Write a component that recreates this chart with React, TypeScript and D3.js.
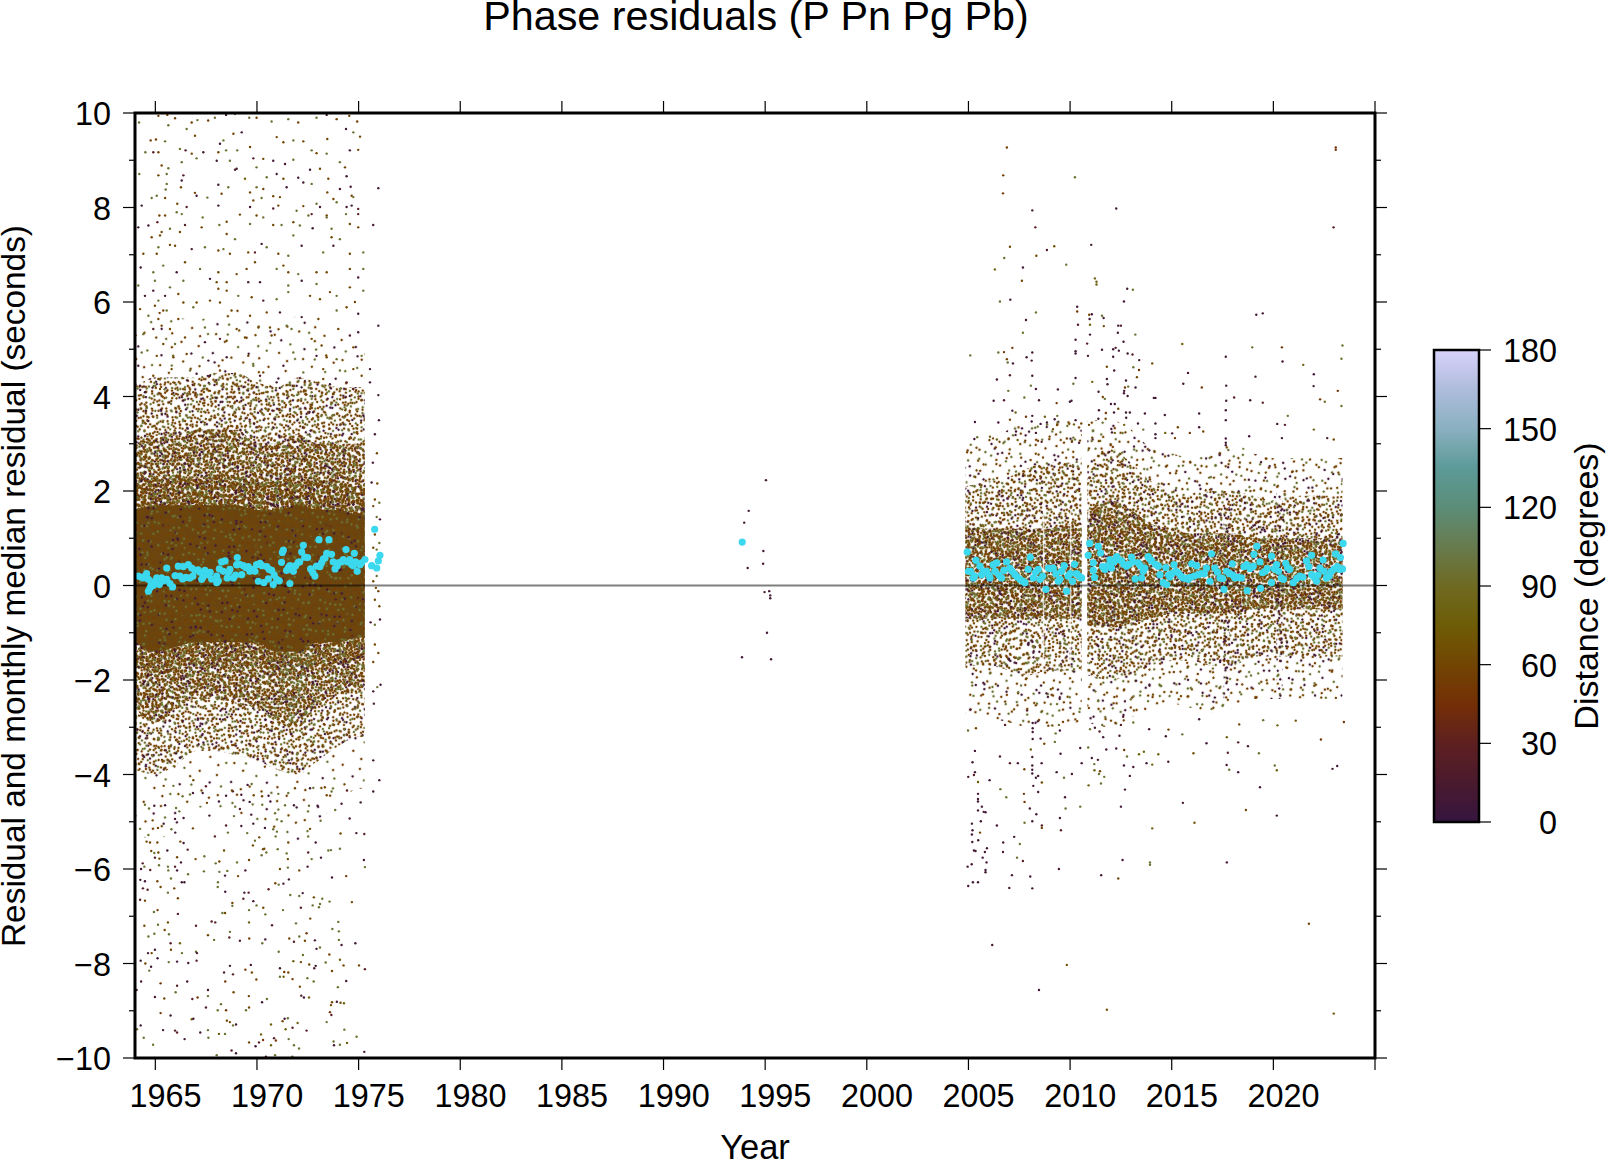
import React from "react";
import * as d3 from "d3";

const titleText = "Phase residuals (P Pn Pg Pb)";
const yearTicks = d3.range(1965, 2026, 5);
const yearLabels = [1965,1970,1975,1980,1985,1990,1995,2000,2005,2010,2015,2020];
const resMajor = [-10,-8,-6,-4,-2,0,2,4,6,8,10];
const resMinor = [-9,-7,-5,-3,-1,1,3,5,7,9];
const distTicks = [0,30,60,90,120,150,180];
const cptDist = [0,15,30,45,60,75,90,105,120,135,150,165,180];
const cptColor = ["#35153f","#4a1a2e","#5e2020","#742f06","#724503","#6e5c06","#6f6a22","#677b4e","#5c8d78","#5c9a98","#8ab0c0","#aebcdc","#d8d2fa"];

// Monthly medians: [year, seconds]
const medians: [number,number][] = [[1964.16,.2],[1964.41,.16],[1964.57,.25],[1964.66,.13],[1964.74,-.05],[1964.66,-.12],[1964.9,0],[1965.07,.16],[1965.31,.16],[1965.2,.02],[1965.56,.13],[1965.56,.37],[1965.72,.04],[1965.85,-.03],[1965.97,.21],[1966.13,.41],[1966.21,.2],[1966.38,.4],[1966.34,.14],[1966.62,.44],[1966.7,.16],[1966.79,.37],[1966.95,.32],[1967.2,.28],[1967.28,.13],[1967.44,.32],[1967.61,.23],[1967.77,.14],[1968.02,.2],[1968.02,.06],[1968.15,.35],[1968.26,.5],[1968.43,.52],[1968.34,.3],[1968.54,.16],[1968.67,.34],[1968.84,.16],[1969.03,.59],[1969,.44],[1969.25,.23],[1969.33,.42],[1969.57,.4],[1969.74,.34],[1969.9,.3],[1969.98,.44],[1970.15,.47],[1970.07,.09],[1970.34,.06],[1970.48,.4],[1970.56,.14],[1970.72,.32],[1970.8,.02],[1970.97,.13],[1971.21,.49],[1971.3,.75],[1971.46,.32],[1971.62,.04],[1971.62,.42],[1971.79,.3],[1972.03,.49],[1972.2,.71],[1972.28,.85],[1972.49,.59],[1972.64,.35],[1972.85,.2],[1973.05,.97],[1972.93,.41],[1973.18,.48],[1973.26,.56],[1973.43,.68],[1973.54,.97],[1973.67,.66],[1973.84,.35],[1974,.48],[1974.25,.55],[1974.38,.76],[1974.57,.55],[1974.74,.42],[1974.79,.68],[1974.93,.3],[1975.07,.44],[1975.31,.55],[1975.64,.42],[1975.79,1.19],[1975.89,.37],[1975.97,.52],[1976.05,.64],[1993.87,.92],
[1964.3,.18],[1964.5,.2],[1964.8,.02],[1965,.1],[1965.4,.1],[1966.5,.17],[1966.85,.2],[1967.1,.33],[1967.35,.18],[1967.7,.28],[1968.1,.1],[1968.6,.28],[1968.95,.22],[1969.15,.45],[1969.45,.38],[1969.65,.3],[1970.25,.42],[1970.6,.34],[1970.85,.22],[1971.1,.1],[1971.25,.7],[1971.55,.38],[1971.9,.42],[1972.1,.5],[1972.35,.6],[1972.75,.27],[1973.1,.4],[1973.35,.58],[1973.75,.5],[1973.95,.42],[1974.15,.5],[1974.45,.5],[1974.65,.45],[1974.85,.5],[1975.15,.48],
[2004.94,.71],[2005.11,.3],[2005.24,.16],[2005.37,.53],[2005.57,.41],[2005.65,.23],[2005.89,.3],[2006.06,.16],[2006.22,.44],[2006.39,.48],[2006.63,.16],[2006.88,.5],[2007.04,.37],[2007.29,.23],[2007.53,.13],[2007.78,.06],[2007.94,.34],[2008.04,.6],[2008.19,.16],[2008.43,.34],[2008.52,.13],[2008.81,-.08],[2008.93,.37],[2009.17,.37],[2009.42,.09],[2009.58,.3],[2009.71,.42],[2009.83,-.12],[2010.12,.09],[2010.22,.45],[2010.32,.25],[2010.57,.16],[2010.89,.64],[2010.96,.89],[2011.14,.48],[2011.14,.32],[2011.2,.17],[2011.39,.83],[2011.5,.69],[2011.71,.34],[2011.96,.55],[2012.04,.37],[2012.29,.61],[2012.53,.52],[2012.78,.41],[2013.02,.6],[2013.2,.14],[2013.35,.48],[2013.52,.16],[2013.68,.37],[2013.84,.61],[2014.01,.52],[2014.34,.41],[2014.42,.23],[2014.58,.06],[2014.75,.02],[2014.71,.38],[2014.91,.18],[2015.11,.44],[2015.32,.27],[2015.57,.16],[2015.81,.13],[2015.98,.46],[2016.22,.42],[2016.3,.23],[2016.71,.37],[2016.88,.09],[2016.96,.67],[2017.12,.37],[2017.37,.16],[2017.57,-.08],[2017.7,.3],[2017.98,.46],[2018.11,.16],[2018.43,.16],[2018.68,.44],[2018.71,-.11],[2019.01,.41],[2019.04,.66],[2019.19,.83],[2019.34,.5],[2019.37,-.06],[2019.47,.27],[2019.7,.36],[2019.91,.06],[2019.91,.62],[2020.16,.44],[2020.4,.16],[2020.61,.47],[2020.81,.34],[2020.98,.06],[2021.3,.2],[2021.63,.52],[2021.88,.64],[2021.88,.23],[2022.12,.09],[2022.29,.37],[2022.45,.54],[2022.61,.16],[2022.86,.3],[2023.06,.67],[2023.27,.34],[2023.3,.59],[2023.43,.89],[2023.4,.35],
[2005,.3],[2005.3,.2],[2005.75,.3],[2006,.22],[2006.3,.3],[2006.5,.22],[2006.75,.32],[2007.15,.3],[2007.4,.18],[2007.65,.1],[2008.3,.28],[2008.65,.2],[2009.05,.36],[2009.3,.25],[2009.5,.13],[2009.9,.2],[2010,.25],[2010.45,.2],[2011.6,.4],[2011.85,.42],[2012.15,.5],[2012.4,.55],[2012.65,.45],[2012.9,.45],[2013.1,.5],[2013.45,.42],[2013.6,.3],[2013.95,.55],[2014.2,.45],[2014.85,.22],[2015,.25],[2015.2,.3],[2015.45,.2],[2015.7,.15],[2015.9,.17],[2016.1,.2],[2016.45,.25],[2016.6,.25],[2017.25,.28],[2017.5,.15],[2017.85,.25],[2018,.22],[2018.25,.17],[2018.55,.4],[2018.85,.36],[2019.6,.3],[2020.05,.35],[2020.25,.3],[2020.5,.13],[2020.7,.38],[2021.15,.15],[2021.45,.18],[2021.75,.4],[2022,.18],[2022.2,.22],[2022.5,.3],[2022.75,.2],[2023,.35],[2023.15,.4]];

// Density envelopes, where dots merge into a mass
const earlyYears = [1964,1965,1966,1967,1968,1969,1970,1971,1972,1973,1974,1975,1975.3];
const earlySolidHi = [1.6,1.7,1.7,1.7,1.7,1.7,1.6,1.6,1.7,1.6,1.6,1.5,1.5];
const earlySolidLo = [-1.2,-1.4,-1.3,-1.2,-1.2,-1.2,-1.2,-1.4,-1.4,-1.2,-1.2,-1.1,-1.1];
const earlyCoreHi = [2.2,2.3,2.3,2.3,2.3,2.3,2.2,2.2,2.3,2.2,2.2,2.1,2.1];
const earlyCoreLo = [-1.7,-1.9,-1.8,-1.7,-1.7,-1.7,-1.7,-1.9,-1.9,-1.7,-1.7,-1.6,-1.6];
const earlyMidHi = [3,3.2,3.2,3.3,3.3,3.3,3,3,3.2,3,3,3,3];
const earlyMidLo = [-2.6,-2.9,-2.6,-2.4,-2.4,-2.5,-2.6,-2.9,-3,-2.5,-2.3,-2.2,-2.2];
const earlyOutHi = [4.2,4.4,4.4,4.4,4.5,4.5,4.3,4.2,4.4,4.3,4.2,4.2,4.2];
const earlyOutLo = [-3.9,-4,-3.8,-3.5,-3.5,-3.6,-3.7,-3.9,-4,-3.7,-3.4,-3.2,-3.2];
const earlyFarHi = [5.5,5.8,5.7,5.6,5.8,5.9,5.6,5.5,5.7,5.6,5.4,5.3,5.3];
const earlyFarLo = [-5.2,-5.4,-5.1,-4.7,-4.7,-4.9,-5,-5.3,-5.4,-5,-4.6,-4.3,-4.3];
const olivePatchYears = [1971.1,1971.5,1972,1972.6];
const olivePatchHi = [-1.4,-1.4,-1.4,-1.4];
const olivePatchLo = [-1.6,-2.8,-2.7,-1.7];

const lateYearsA = [2004.85,2006,2007,2008,2009,2010,2010.57];
const lateCoreHiA = [1.3,1.2,1.2,1.2,1.2,1.3,1.3];
const lateCoreLoA = [-.7,-.7,-.7,-.7,-.7,-.7,-.7];
const lateMidHiA = [2.1,2.2,2.3,2.5,2.6,2.6,2.7];
const lateMidLoA = [-1.7,-1.7,-1.8,-1.9,-1.8,-1.8,-1.8];
const lateOutHiA = [3,3.1,3.3,3.5,3.5,3.5,3.5];
const lateOutLoA = [-2.7,-2.8,-2.9,-3,-3,-2.9,-2.9];
const lateYearsB = [2010.85,2012,2013,2014,2015,2016,2017,2018,2019,2020,2021,2022,2023,2023.4];
const lateCoreHiB = [1.6,1.8,1.6,1.3,1.2,1.1,1.1,1.1,1,1,1,1,1,1];
const lateCoreLoB = [-.9,-.9,-.8,-.7,-.6,-.6,-.6,-.6,-.5,-.5,-.5,-.5,-.5,-.5];
const lateMidHiB = [2.6,2.9,2.6,2.2,2,1.9,2,2,1.9,1.8,1.9,1.9,1.9,1.9];
const lateMidLoB = [-1.9,-2,-1.9,-1.7,-1.6,-1.6,-1.7,-1.7,-1.5,-1.5,-1.5,-1.5,-1.5,-1.5];
const lateOutHiB = [3.5,3.5,3.3,2.9,2.8,2.7,2.8,3,2.8,2.7,2.7,2.7,2.7,2.7];
const lateOutLoB = [-2.9,-3,-2.8,-2.6,-2.5,-2.6,-2.7,-2.6,-2.4,-2.4,-2.4,-2.4,-2.4,-2.4];
const lateStreaks = [2017.7, 2020.3];
const lateStripes = [2008.66, 2009.99];

// Hand-typed speckle swatches for the merged mass: [x px, y px, distance] in a tile
const sparseSwatch: [number,number,number][] = [[3,7,55],[11,21,95],[18,4,10],[24,33,60],[9,44,95],[31,12,55],[37,52,10],[44,6,95],[51,27,60],[58,41,95],[15,58,55],[28,49,10],[41,35,60],[55,11,55],[5,31,10],[47,58,95],[35,24,95],[21,15,60],[60,55,55],[13,37,60],[50,47,10],[27,60,95],[39,44,60],[7,52,55],[57,19,95],[33,3,60],[46,18,10],[19,27,95],[3,18,60],[42,50,55]];
const denseSwatch: [number,number,number][] = [[2,3,55],[7,11,95],[13,5,60],[19,2,10],[25,8,95],[31,4,55],[37,10,60],[4,17,10],[10,22,60],[16,14,95],[22,18,55],[28,14,60],[34,20,95],[38,16,10],[3,28,95],[8,33,55],[14,27,60],[20,31,95],[26,25,10],[32,29,60],[37,34,55],[5,38,60],[12,36,10],[18,37,95],[24,35,55],[30,37,95],[35,26,60],[10,7,60],[16,9,55],[22,12,95],[28,3,60],[34,13,55],[6,24,95],[12,16,60],[18,23,55],[24,21,60],[30,20,55],[36,3,95],[2,12,60],[27,31,55],[15,32,10],[21,26,60],[9,29,95],[33,36,60],[4,34,55],[38,23,60]];

// Individual dots: [year, seconds, distance]
const earlyUpper: [number,number,number][] = [[1965.15,9.94,55],[1965.59,9.96,55],[1965.97,9.89,55],[1964.2,9.8,95],[1966.79,9.8,55],[1967.07,9.85,95],[1967.6,9.84,55],[1967.93,9.9,95],[1968.48,9.96,10],[1968.92,9.98,95],[1969.62,9.9,95],[1969.98,9.9,55],[1970.72,9.82,95],[1971.54,9.87,95],[1972.03,9.8,55],[1972.93,9.9,95],[1973.43,9.96,10],[1973.92,9.87,55],[1974.54,9.94,55],[1974.93,9.82,55],[1964.77,9.42,55],[1965.03,9.44,55],[1965.48,9.4,95],[1966.21,9.24,95],[1966.49,9.21,25],[1966.79,9.14,60],[1965.15,9.17,60],[1964.51,9.17,95],[1964.9,9.17,25],[1967.03,9.04,95],[1966.3,8.96,95],[1968.18,9.35,10],[1968.35,9.42,95],[1968.1,9.17,60],[1968.48,9.21,95],[1969.03,9.21,95],[1969.66,9.28,60],[1969.82,9.04,25],[1970.31,9.03,60],[1970.97,9.49,60],[1971.3,9.38,60],[1971.79,9.42,95],[1972.28,9.4,60],[1972.69,9.21,95],[1972.93,9.15,60],[1973.43,9.14,95],[1974.08,8.96,95],[1974.57,9.21,10],[1974.98,9.22,60],[1973.46,9.45,60],[1974.38,9.66,10],[1975.07,9.5,60],[1974.74,9.59,95],[1967.36,9.17,10],[1968.02,8.99,10],[1968.67,8.99,95],[1969,8.82,10],[1969.25,9.59,10],[1968.84,9.56,60],[1966.95,9.52,60],[1966.54,9.66,95],[1965.64,9.74,95],
[1965.31,8.89,60],[1965.64,8.83,95],[1965.15,8.68,60],[1964.21,8.71,95],[1965.56,8.71,95],[1966.38,8.68,25],[1966.3,8.57,10],[1969.41,8.61,80],[1969.98,8.43,95],[1969.66,8.32,60],[1968.59,8.43,95],[1968.1,8.48,10],[1966.26,8.43,60],[1965.56,8.5,95],[1965.51,8.38,95],[1965.48,8.2,60],[1965.07,8.25,95],[1964.82,8.2,95],[1966.95,8.31,60],[1967.03,8.25,10],[1967.56,8.21,95],[1968.26,8.29,60],[1970.31,8.39,60],[1970.23,8.2,95],[1969.82,8.15,60],[1970.48,8.64,95],[1971.3,8.61,60],[1970.97,8.71,10],[1971.46,8.43,10],[1971.13,8.22,60],[1970.8,8.24,60],[1972.03,8.63,10],[1972.28,8.53,10],[1972.69,8.5,95],[1973.51,8.61,60],[1974.08,8.39,10],[1973.46,8.32,60],[1973.76,8.18,60],[1974.66,8.25,60],[1974.74,8.22,95],[1974.61,8.44,10],[1974.41,8.66,10],[1974.33,8.85,60],[1973.1,8.82,60],[1972.61,8.8,10],[1971.79,9.01,95],[1971.38,8.92,10],[1970.8,8.99,10],[1969.98,8.85,95],[1968.92,8.8,25],[1975.97,8.41,10],[1964.33,8.04,10],[1966.08,8.08,60],[1965.2,7.83,60],[1965.48,7.83,60],[1966.05,7.9,95],[1966.3,7.86,95],[1966.54,8.01,25],[1968.1,8.04,10],[1969.66,8.01,10],[1970.8,7.98,25],[1971.05,8.04,60],[1971.95,7.93,95],[1972.28,8.03,60],[1972.93,8.08,95],[1973.1,8.01,10],[1972.69,7.86,25],[1972.53,7.83,95],[1973.43,7.83,60],[1973.92,8.11,95],[1974.41,8.01,10],[1974.98,7.97,25],[1974.66,8.04,10],[1974.38,7.86,95],[1974.98,7.86,25],[1969.16,7.85,60],[1969.98,7.83,60],[1970.31,7.79,95],[1967.33,7.79,95],[1964.16,7.58,10],[1964.66,7.62,10],[1965.1,7.69,25],[1965.31,7.48,60],[1965.72,7.55,95],[1966.21,7.48,60],[1966.46,7.63,25],[1967.28,7.58,60],[1968.15,7.63,95],[1968.51,7.7,60],[1969.66,7.65,95],[1970.8,7.63,60],[1971.21,7.63,95],[1971.79,7.69,60],[1972.11,7.62,95],[1972.74,7.56,10],[1973.43,7.79,95],[1973.67,7.55,95],[1974.57,7.65,60],[1974.98,7.58,60],[1975.72,7.63,10],
[1964.82,7.37,60],[1965.23,7.41,60],[1965.15,7.16,95],[1965.72,7.21,60],[1965.97,7.19,60],[1966.79,7.12,10],[1967.44,7.16,95],[1968.1,7.09,60],[1968.51,7.44,60],[1968.35,7.12,95],[1968.67,7.02,60],[1968.92,7.33,95],[1969.57,7.05,60],[1969.9,7.05,25],[1970.23,7.23,10],[1970.48,7.16,95],[1971.05,7.02,60],[1971.3,6.77,60],[1971.54,6.98,95],[1971.79,7.41,95],[1972.2,7.19,10],[1973.26,7.05,95],[1973.67,7.37,60],[1974.08,7.33,95],[1973.76,7.19,10],[1974.57,7.02,60],[1975.23,7.05,95],[1964.41,7.02,60],[1965.07,7.02,60],[1964.28,6.73,10],[1964.9,6.63,95],[1965.39,6.77,95],[1966.05,6.63,10],[1966.46,6.84,60],[1967.2,6.7,95],[1967.69,6.49,10],[1968.1,6.63,60],[1968.51,6.42,60],[1969,6.59,60],[1969.49,6.7,60],[1969.9,6.84,60],[1970.15,6.42,10],[1970.97,6.7,95],[1971.54,6.63,60],[1972.03,6.59,95],[1972.93,6.63,60],[1973.43,6.63,60],[1974.57,6.7,60],[1974.98,6.52,10],[1975.23,6.7,95],[1964.98,6.45,95],[1965.72,6.31,95],[1966.38,6.45,95],[1968.02,6.42,60],[1969.57,6.42,10],[1971.54,6.35,95],[1972.2,6.45,10],[1972.93,6.38,95],[1973.59,6.21,60],[1974.57,6.31,60],[1975.23,6.24,95],[1964.16,6.35,95],[1964.49,6.13,10],[1964.9,6.24,10],[1965.48,6.13,10],[1966.13,6.17,60],[1967.03,5.99,60],[1967.69,6.03,60],[1968.1,6.28,60],[1968.51,6.24,60],[1969.08,6.13,95],[1969.74,6.1,60],[1970.31,6.03,25],[1970.97,6.06,95],[1971.54,6.21,95],[1972.61,6.13,60],[1973.1,6.06,60],[1973.92,6.13,95],[1974.82,6,60],
[1964.25,5.85,60],[1964.98,5.92,60],[1965.15,6.03,95],[1965.39,5.82,60],[1964.66,5.71,95],[1965.15,5.64,60],[1965.31,5.5,60],[1965.72,5.43,60],[1966.13,5.64,60],[1964.9,5.43,25],[1965.56,5.82,95],[1966.38,5.99,60],[1966.87,5.89,95],[1968.18,5.99,60],[1968.75,5.82,60],[1969.66,5.71,60],[1970.48,5.78,60],[1971.13,5.78,10],[1971.46,5.5,95],[1972.2,5.68,10],[1973.02,5.64,60],[1973.92,5.82,95],[1974.41,5.89,60],[1974.98,5.75,10],[1970.64,5.46,60],[1970.07,5.46,60],[1969,5.43,60],[1968.18,5.22,25],[1967.44,5.46,95],[1964.41,5.32,95],[1965.39,5.11,60],[1965.97,5.11,95],[1966.46,5.25,60],[1967.44,5.15,10],[1968.51,5.18,60],[1969.41,5.25,60],[1970.72,5.29,60],[1971.7,5.43,95],[1972.69,5.22,60],[1973.18,5.08,60],[1974,5.43,60],[1974.57,5.29,25],[1974.98,5.36,10],[1975.97,5.5,10],[1964.33,4.93,95],[1965.07,4.86,60],[1965.89,4.83,60],[1966.54,4.9,60],[1967.61,4.76,10],[1968.51,4.83,10],[1969.57,4.86,60],[1970.48,4.97,95],[1971.79,4.93,95],[1972.93,4.86,10],[1973.43,4.83,60],[1973.92,4.79,95],[1974.74,5.04,60],[1975.15,4.86,95],[1975.56,4.58,10],[1964.16,4.65,10],[1964.9,4.44,60],[1965.8,4.58,60],[1966.71,4.55,95],[1967.69,4.44,10],[1968.18,4.55,60],[1968.92,4.48,60],[1969.82,4.65,95],[1970.31,4.51,60],[1971.3,4.65,10],[1972.28,4.51,95],[1973.26,4.58,60],[1974.08,4.55,95],[1974.74,4.58,60],[1964.25,4.23,10],[1965.15,4.37,60],[1965.89,4.3,60],[1967.03,4.48,10],[1968.02,4.3,95],[1969,4.23,60],[1970.15,4.44,25],[1971.62,4.26,95],[1973.26,4.37,60],[1973.59,4.26,10],[1974.41,4.3,25],[1975.15,4.44,60],[1975.97,4.03,10],[1964.49,4.09,10],[1965.23,4.16,60],[1966.87,4.09,60],[1967.69,4.12,60],[1968.51,4.16,95],[1969.98,4.05,60],[1970.97,4.3,10],[1971.79,4.16,95],[1972.69,4.09,95],[1973.76,4.05,60],[1974.74,4.16,25],[1975.56,4.3,10]];

const earlyLower: [number,number,number][] = [[1964.28,-9.31,10],[1964.1,-9.39,95],[1964.43,-9.57,95],[1964.89,-9.72,95],[1965.26,-9.05,50],[1965.75,-9.1,10],[1965.38,-9.41,10],[1965.97,-9.42,25],[1966.07,-9.46,25],[1966.44,-9.6,10],[1966.79,-9.18,80],[1966.87,-9.17,10],[1967.49,-8.93,25],[1968.07,-8.99,95],[1968.23,-8.86,95],[1968.48,-8.99,50],[1967.21,-9.46,10],[1967.59,-9.41,95],[1967.61,-9.57,95],[1968.13,-9.49,80],[1968.43,-9.49,95],[1968.52,-9.21,60],[1968.67,-9.24,60],[1968.82,-9.31,95],[1968.97,-9.29,10],[1968.75,-9.84,25],[1968.97,-9.9,10],[1968.02,-9.94,95],[1969.46,-8.99,95],[1969.61,-8.93,60],[1970.25,-8.82,10],[1969.61,-9.67,60],[1970.2,-9.5,80],[1969.93,-9.75,10],[1970.1,-9.67,25],[1970.3,-9.62,50],[1970.84,-9.58,25],[1970.93,-9.63,50],[1970.69,-9.73,80],[1970.69,-9.29,80],[1971.26,-9.22,60],[1971.36,-9.17,10],[1971.52,-9.16,95],[1971.41,-9.39,80],[1971.75,-9.36,25],[1972,-9.26,80],[1971.56,-9.6,95],[1971.82,-9.73,95],[1972.07,-9.8,95],[1972.44,-9.42,25],[1970.44,-9.97,25],[1970.89,-9.94,95],[1971.74,-9.97,95],[1973.43,-9.24,95],[1973.59,-9.03,50],[1973.66,-9.09,25],[1973.64,-8.88,60],[1973.69,-8.82,60],[1973.93,-8.81,10],[1974.11,-8.83,60],[1974.28,-8.84,80],[1974.3,-9.4,95],[1973.77,-9.65,95],[1973.79,-9.73,10],[1974.08,-9.72,95],[1974.43,-9.68,80],[1974.9,-9.55,95],[1975.28,-9.87,10],
[1964.08,-8.56,10],[1964.3,-8.38,10],[1964.98,-8.71,10],[1965.26,-8.42,50],[1965.44,-8.74,60],[1966,-8.61,95],[1966.07,-8.47,25],[1966.57,-8.38,10],[1966.82,-8.75,25],[1967.08,-8.72,50],[1967.59,-8.56,10],[1967.59,-8.69,95],[1968.44,-8.38,50],[1968.85,-8.61,60],[1969.6,-8.69,60],[1969.97,-8.34,60],[1970.49,-8.75,95],[1971.75,-8.33,50],[1971.13,-8.28,95],[1971.31,-8.28,80],[1971.54,-8.19,60],[1971.34,-8.18,50],[1971.13,-8.1,10],[1972.11,-8.49,60],[1972.18,-8.68,25],[1972.31,-8.72,10],[1972.56,-8.72,80],[1972.48,-8.31,95],[1972.79,-8.38,95],[1973.98,-8.5,95],[1974.39,-8.37,10],[1968.38,-8.19,25],[1968.82,-8.23,25],[1968.67,-8.05,10],[1969.43,-8.13,50],[1969.75,-8.19,60],[1969.7,-8.03,10],[1964.28,-7.94,10],[1964.51,-8,60],[1964.79,-8.07,10],[1964.7,-8.15,95],[1965.66,-7.97,95],[1966.07,-7.96,10],[1966.62,-7.99,10],[1967.03,-7.94,25],[1971.79,-7.95,80],[1972.16,-7.97,60],[1972.57,-8.02,60],[1972.82,-8.1,25],[1972.89,-8.05,10],[1973.38,-7.98,95],[1973.69,-8.16,60],[1974.08,-7.92,80],[1974.26,-8.04,60],[1975.02,-8.04,60],[1975.31,-8.12,25],[1964.64,-7.78,10],[1964.82,-7.78,60],[1964.98,-7.71,10],[1965.11,-7.89,10],[1965.75,-7.57,25],[1966.21,-7.57,80],[1965.77,-7.71,60],[1966.31,-7.78,95],[1967,-7.75,95],[1967.05,-7.78,10],[1969.16,-7.52,25],[1969.62,-7.47,60],[1968.64,-7.45,25],[1967.59,-7.4,60],[1967.89,-7.5,95],[1970.26,-7.57,95],[1970.41,-7.49,10],[1971.07,-7.75,95],[1971.59,-7.47,60],[1971.82,-7.54,25],[1972.08,-7.43,95],[1972.36,-7.52,60],[1972.44,-7.36,50],[1972.85,-7.51,10],[1972.93,-7.69,10],[1973.1,-7.66,95],[1972.26,-7.82,95],[1973.56,-7.81,60],[1973.71,-7.27,95],[1974.03,-7.32,95],[1974.03,-7.5,95],[1974.16,-7.61,10],[1974.84,-7.57,10],[1964.66,-7.43,95],[1964.95,-7.37,95],[1965.46,-7.29,60],[1965.67,-7.38,95],[1964.46,-7.2,60],[1965.13,-7.18,95],[1965.62,-7.13,60],[1967,-7.2,25],[1967.77,-7.11,25],[1967.95,-7.13,25],[1969.61,-7.13,80],[1970.74,-7.19,25],[1971.92,-7.15,95],[1972.62,-7.05,60],[1974,-7.12,95],[1968.67,-7.33,95],
[1964.93,-6.91,95],[1965.11,-6.87,50],[1966.11,-6.95,25],[1968.3,-6.93,95],[1968.43,-6.93,60],[1968.79,-6.78,95],[1968.79,-6.72,60],[1969.61,-6.87,95],[1969.82,-6.68,10],[1969.98,-6.77,95],[1970.31,-6.82,60],[1970.41,-6.96,95],[1971.28,-6.87,95],[1972.16,-6.82,25],[1972.74,-6.77,95],[1973.05,-6.81,95],[1973.1,-6.74,95],[1973.21,-6.63,95],[1972.8,-6.6,60],[1973.57,-6.69,95],[1974.67,-6.7,60],[1964.25,-6.65,25],[1964.49,-6.67,60],[1966.11,-6.62,60],[1969.33,-6.63,25],[1969.38,-6.5,10],[1969.59,-6.5,25],[1971.64,-6.55,95],[1972.08,-6.57,95],[1972.25,-6.51,10],[1968.44,-6.48,10],[1970.57,-6.43,25],[1965.62,-6.5,95],[1965.93,-6.41,60],[1965.26,-6.38,60],[1964.39,-6.41,25],[1964.62,-6.44,25],[1964.49,-6.26,10],[1964.26,-6.23,10],[1965.1,-6.26,60],[1966.3,-6.28,10],[1966.43,-6.28,10],[1965.77,-6.2,95],[1968.08,-6.28,95],[1968.07,-6.38,95],[1970.9,-6.3,60],[1971.07,-6.33,95],[1971.3,-6.31,10],[1971.57,-6.22,10],[1973.69,-6.18,10],[1974.39,-6.15,50],
[1964.3,-6,10],[1964.46,-5.95,95],[1964.75,-6.02,25],[1965.62,-5.95,95],[1965.64,-6.03,95],[1965.97,-5.95,25],[1966.07,-6.03,10],[1966.61,-6.11,95],[1967.39,-6.05,95],[1968.15,-6.06,95],[1968.43,-6.14,10],[1968.54,-6.04,95],[1969.07,-6.15,60],[1969.43,-6.03,10],[1971.13,-6,60],[1971.52,-5.97,95],[1972.08,-6.03,60],[1972.49,-5.95,10],[1975.31,-5.96,95],[1975.26,-5.81,10],[1964.38,-5.88,25],[1964.8,-5.62,60],[1964.95,-5.66,95],[1965.15,-5.65,60],[1964.98,-5.76,25],[1965.2,-5.78,60],[1965.18,-5.92,95],[1965.59,-5.61,10],[1966.07,-5.75,60],[1966.26,-5.86,10],[1966.98,-5.79,60],[1967.41,-5.73,95],[1967.97,-5.88,95],[1968.15,-5.84,60],[1969.02,-5.86,95],[1969.61,-5.81,60],[1970.23,-5.71,95],[1970.3,-5.58,60],[1970.36,-5.57,60],[1970.46,-5.65,95],[1971.02,-5.58,95],[1971.46,-5.67,95],[1971.52,-5.79,60],[1972.52,-5.65,25],[1972.69,-5.79,95],[1973.15,-5.76,10],[1973.51,-5.61,95],[1973.64,-5.6,95],[1974.08,-5.57,95],
[1964.57,-5.42,60],[1964.74,-5.44,60],[1965.1,-5.44,60],[1966.23,-5.42,60],[1966.39,-5.45,10],[1966.59,-5.59,25],[1968.38,-5.61,60],[1969.52,-5.24,95],[1969.8,-5.5,60],[1969.9,-5.4,95],[1970.11,-5.33,60],[1971.21,-4.99,95],[1970.8,-5.16,95],[1970.98,-5.21,95],[1970.92,-5.31,95],[1971.54,-5.44,60],[1972.61,-5.15,60],[1972.52,-5.31,95],[1972.89,-5.44,10],[1973.13,-4.98,95],[1974.11,-5.25,60],[1974.89,-5.24,10],[1975.28,-5.26,25],[1974.56,-4.93,10],[1964.25,-5.15,95],[1964.66,-5.28,95],[1964.87,-4.97,60],[1965.13,-5.13,60],[1965.41,-5.04,10],[1965.79,-5.16,95],[1965.98,-5.23,10],[1965.97,-4.94,10],[1966.39,-4.92,10],[1966.85,-5.14,60],[1967.66,-4.87,10],[1967.93,-5.31,25],[1968.48,-5.08,25],[1968.57,-5.23,95],[1969.23,-5.09,10],[1969.82,-5.04,10],[1970.39,-5.13,10],[1968.87,-4.88,95],[1969.72,-4.85,10],
[1964.49,-4.64,95],[1964.69,-4.72,95],[1964.95,-4.66,10],[1965.48,-4.65,10],[1966.02,-4.71,95],[1966.18,-4.78,95],[1967.54,-4.6,60],[1968.13,-4.57,10],[1968.48,-4.45,10],[1968.93,-4.68,95],[1969.16,-4.73,25],[1969.64,-4.58,10],[1970.25,-4.46,60],[1970.57,-4.45,10],[1970.26,-4.64,95],[1970.66,-4.57,10],[1970.89,-4.82,95],[1971.38,-4.65,95],[1971.82,-4.65,10],[1972.56,-4.66,95],[1972.98,-4.66,10],[1973.85,-4.75,95],[1974.16,-4.62,10],[1975.1,-4.59,10],[1974.43,-4.34,25],[1973.43,-4.44,60],[1973.67,-4.36,95],[1975.72,-4.36,10],[1976.02,-4.12,10],[1971.87,-4.29,60],[1972.61,-4.29,10],[1973.34,-4.27,60],[1971.05,-4.41,95],[1971.54,-4.39,95],[1966.85,-4.39,10],[1967.33,-4.39,10],[1965.41,-4.24,60],[1966.34,-4.46,95],[1965.89,-4.24,95],[1966.87,-4.12,60],[1967.49,-4.25,25],[1968.77,-4.34,60],[1969.23,-4.43,10],[1969.84,-4.44,60],[1969.54,-4.22,10],[1969.74,-4.2,95]];

const lateUpper: [number,number,number][] = [[2006.89,9.27,55],[2006.71,8.68,55],[2006.7,8.3,55],[2010.24,8.64,95],[2008.14,7.94,10],[2012.27,7.98,10],[2008.29,7.58,25],[2023.07,9.27,45],[2023.07,9.22,45],[2022.96,7.58,25],[2011.04,7.21,10],[2007.04,7.17,60],[2009.22,7.18,70],[2008.86,7.1,20],[2008.34,6.98,60],[2006.76,6.93,95],[2009.81,6.79,95],[2007.68,6.73,10],[2006.3,6.69,80],[2007.63,6.45,60],[2011.22,6.5,80],[2011.3,6.43,80],[2011.3,6.37,80],[2012.81,6.28,10],[2013.09,6.26,95],[2012.65,6.01,10],[2006.55,6.01,95],[2007.06,6.05,10],[2010.35,5.9,10],[2010.35,5.8,50],[2008.32,5.78,95],[2010.94,5.73,60],[2011.07,5.74,10],[2011.57,5.71,95],[2011.65,5.66,10],[2010.96,5.64,10],[2007.83,5.62,10],[2010.98,5.52,80],[2010.39,5.52,20],[2011.66,5.49,60],[2012.37,5.5,10],[2012.5,5.5,20],[2012.35,5.35,10],[2007.68,5.35,95],[2013.21,5.31,95],[2010.98,5.31,10],[2010.27,5.2,10],[2012.63,5.16,10],[2010.84,5.12,25],[2015.52,5.11,80],[2019.16,5.73,10],[2019.48,5.76,10],[2023.4,5.08,95],[2018.96,5.04,95],[2020.42,5.04,50],[2007.16,5.03,50],[2005.09,4.87,95],[2006.47,4.93,95],[2006.75,4.94,50],[2008.14,4.93,10],[2007.86,4.83,10],[2010.27,4.96,10],[2010.27,4.91,10],[2011.57,4.99,10],[2012.12,5,10],[2012.24,5.03,25],[2012.4,4.97,10],[2010.88,4.86,10],[2012.12,4.84,10],[2012.83,4.91,10],[2013.07,4.89,25],[2017.66,4.84,10],[2006.89,4.79,60],[2006.93,4.72,95],[2007.19,4.7,10],[2008.11,4.76,10],[2013.4,4.77,10],[2020.45,4.74,10],[2014.04,4.7,60],[2021.47,4.67,80],[2023.35,4.8,95],[2011.81,4.63,60],[2013.11,4.62,95],[2013.39,4.56,50],[2012.17,4.55,10],[2015.8,4.5,10],[2007.04,4.45,25],[2008.14,4.44,10],[2019.12,4.42,10],[2021.99,4.47,10],[2013.29,4.41,60],[2010.27,4.39,10],[2011.81,4.37,10],[2006.4,4.36,10],[2012.75,4.34,10],[2011.09,4.31,80],[2010.16,4.27,95],[2015.57,4.27,10],[2011.84,4.26,10],[2008.07,4.23,95],[2017.68,4.23,10],[2012.86,4.21,95],[2012.7,4.19,50],[2013.22,4.19,10],[2016.48,4.19,50],[2021.98,4.22,10],[2008.32,4.16,10],[2009.4,4.15,10],[2006.96,4.12,95],[2012.66,4.12,10],[2012.65,4.07,10],[2011.4,4.1,10],[2023.17,4.12,50],[2012.83,4.01,10],[2011.61,3.99,60],[2011.71,3.95,95],[2007.75,3.98,95],[2018.07,3.98,25],[2014.12,3.97,10],[2014.2,3.97,10],[2022.3,3.94,50],[2006.24,3.91,10],[2006.75,3.92,25],[2008.47,3.92,10],[2009.99,3.89,10],[2010.07,3.91,10],[2017.68,3.91,10],[2018.86,3.92,10],[2022.53,3.89,95],[2009.34,3.86,50],[2019.48,3.87,25],[2012.01,3.84,10],[2012.2,3.84,10],[2023.35,3.8,95],[2011.42,3.71,10],[2012.37,3.74,60],[2007.16,3.7,10],[2017.66,3.71,10],[2007.32,3.66,80],[2011.76,3.65,50],[2012.16,3.66,10],[2012.75,3.66,10],[2012.94,3.66,10],[2013.68,3.64,10],[2016.35,3.64,10],[2014.66,3.61,10],[2009.37,3.59,95],[2020.71,3.59,95],[2007.83,3.57,50],[2008.14,3.59,10],[2008.76,3.57,80],[2011.39,3.53,10],[2011.75,3.53,60],[2012.76,3.55,10],[2009.24,3.52,10],[2007.04,3.51,60],[2010.27,3.5,10],[2017.66,3.5,10],[2005.32,3.46,10],[2006.47,3.45,10],[2008.11,3.47,10],[2008.55,3.42,10],[2008.86,3.45,10],[2009.37,3.41,60],[2010.19,3.41,80],[2010.55,3.43,60],[2010.93,3.4,60],[2012.66,3.4,80],[2013.34,3.43,10],[2014.2,3.43,10],[2015.3,3.35,60],[2016.35,3.35,10],[2020.19,3.42,10],[2020.57,3.4,25],[2013.6,3.3,95],[2021.99,3.3,80],[2007.34,3.26,10],[2008.32,3.23,10],[2009.16,3.31,60],[2012.06,3.24,10],[2012.2,3.23,80],[2014.68,3.23,80],[2015.02,3.22,10],[2014.2,3.2,10],[2016.55,3.26,60],[2015.89,3.23,50],[2018.81,3.16,10],[2006.06,3.15,80],[2005.43,3.14,95],[2005.29,3.1,10],[2006.4,3.09,80],[2006.98,3.11,60],[2010.16,3.13,95],[2009.84,3.11,60],[2011.09,3.13,60],[2014.2,3.12,10],[2015.16,3.12,50],[2017.66,3.11,10],[2017.66,3.02,10],[2017.66,2.97,10],[2020.42,3.12,10],[2022.65,3.12,10],[2022.97,3.09,60],[2007.42,3.08,80],[2011.48,3.06,80],[2008.6,3.04,25],[2010.09,3.04,50]];

const lateLower: [number,number,number][] = [[2021.75,-7.16,60],[2006.17,-7.61,10],[2009.84,-8.03,70],[2008.47,-8.56,10],[2011.81,-8.98,70],[2022.97,-9.06,70],[2008.14,-6.41,10],[2007.01,-6.4,10],[2004.99,-6.36,10],[2005.22,-6.28,10],[2005.47,-6.28,10],[2007.14,-6.13,10],[2008.04,-6.16,10],[2005.84,-6.07,10],[2005.84,-6.02,10],[2009.45,-6,10],[2011.53,-6.13,10],[2012.37,-6.2,60],[2004.96,-5.95,10],[2005.16,-5.9,10],[2005.7,-5.76,10],[2005.89,-5.86,10],[2007.39,-5.76,95],[2007.68,-5.83,25],[2012.58,-5.81,10],[2013.93,-5.86,95],[2013.93,-5.91,95],[2017.71,-5.86,10],[2005.27,-5.61,10],[2005.35,-5.62,10],[2005.81,-5.64,10],[2005.91,-5.56,10],[2006.7,-5.64,10],[2006.71,-5.44,10],[2005.19,-5.43,10],[2005.48,-5.39,10],[2007.53,-5.47,95],[2007.25,-5.32,10],[2005.17,-5.27,10],[2005.2,-5.18,10],[2005.17,-5.04,10],[2005.57,-5.23,60],[2005.61,-4.99,10],[2006.4,-5.08,10],[2007.76,-5.02,95],[2008.14,-4.99,10],[2008.61,-5.08,25],[2008.61,-5.13,60],[2009.55,-5.18,25],[2014.04,-5.14,80],[2016.12,-5.02,70],[2020.17,-4.87,10],[2009.5,-4.92,10],[2008.34,-4.84,10],[2018.65,-4.75,60],[2005.47,-4.76,10],[2005.75,-4.79,10],[2005.84,-4.8,10],[2005.66,-4.68,10],[2008.02,-4.72,10],[2009.78,-4.72,95],[2005.47,-4.52,10],[2005.47,-4.57,10],[2005.47,-4.41,10],[2010.5,-4.68,95],[2012.5,-4.68,10],[2015.55,-4.6,10],[2009.75,-4.48,10],[2006.86,-4.48,95],[2007.73,-4.41,50],[2007.76,-4.58,50],[2008.43,-4.37,10],[2006.57,-4.31,95],[2008.19,-4.24,10],[2012.7,-4.32,10],[2019.34,-4.27,10],[2010.91,-4.23,80],[2011.52,-4.19,95],[2008.61,-4.17,60],[2005.47,-4.16,70],[2006.04,-4.12,10],[2009.7,-4.07,95],[2008.32,-4.07,10],[2008.43,-4.03,10],[2008.14,-3.98,10],[2004.99,-4.05,10],[2005.27,-4.01,25],[2005.32,-3.95,10],[2010.09,-3.99,10],[2011.68,-4.05,95],[2011.42,-3.99,95],[2011.47,-3.93,60],[2011.2,-3.91,80],[2012.94,-4.03,10],[2009.34,-3.95,10],[2017.83,-3.9,95],[2018.27,-3.95,10],[2020.17,-3.91,80],[2022.91,-3.88,10],[2023.14,-3.82,10],[2007.75,-3.89,60],[2008.14,-3.9,10],[2008.14,-3.81,10],[2017.7,-3.8,10],[2020.07,-3.81,95],[2013.11,-3.84,10],[2012.65,-3.81,10],[2011.19,-3.78,95],[2010.57,-3.76,10],[2013.76,-3.76,10],[2014.04,-3.79,80],[2005.2,-3.74,10],[2007.04,-3.76,25],[2007.43,-3.76,10],[2008.6,-3.76,10],[2014.83,-3.73,10],[2011.37,-3.69,10],[2011.07,-3.65,10],[2006.55,-3.62,10],[2008.14,-3.63,10],[2012.8,-3.62,95],[2009.53,-3.56,10],[2013.39,-3.57,80],[2013.63,-3.52,80],[2014.34,-3.57,80],[2016.07,-3.55,70],[2017.76,-3.54,25],[2019.29,-3.55,95],[2005.32,-3.5,10],[2008.07,-3.47,80],[2010.5,-3.44,10],[2010.89,-3.43,95],[2011.78,-3.47,10],[2012.27,-3.45,10],[2012.66,-3.48,50],[2018.75,-3.4,10],[2016.71,-3.34,10],[2018.27,-3.32,25],[2022.34,-3.26,50],[2017.71,-3.21,80],[2014.71,-3.19,10],[2012.43,-3.18,10],[2011.63,-3.21,10],[2015.52,-3.15,95],[2009.25,-3.31,95],[2008.73,-3.35,60],[2008.55,-3.24,10],[2008.16,-3.25,10],[2008.16,-3.1,10],[2008.16,-3.02,10],[2008.16,-2.91,10],[2009.5,-3.07,10],[2009.29,-3.13,95],[2011.45,-3.09,25],[2005.37,-3.02,60],[2004.98,-3.07,95],[2006.8,-2.95,25],[2013.89,-3.04,10],[2014.84,-3.05,60],[2018.32,-2.94,60],[2020.2,-2.96,80],[2021.1,-2.86,70],[2023.47,-2.89,50],[2010.35,-2.87,60],[2009.12,-2.96,80],[2009.45,-2.95,95],[2010.98,-3.04,95],[2011.22,-3.01,10],[2011.58,-2.95,95],[2012.5,-2.95,25],[2012.61,-2.78,25],[2013.11,-2.9,95],[2016.35,-2.83,10],[2019.5,-2.85,95]];

const sparseMiddle: [number,number,number][] = [[1995.04,2.23,10],[1994.19,1.58,10],[1993.97,1.33,10],[1994.91,.73,10],[1994.9,.46,10],[1994.14,.37,10],[1994.97,-.14,10],[1995.2,-.12,10],[1995.25,-.21,10],[1995.25,-.27,10],[1995.09,-1,10],[1993.86,-1.52,10],[1995.29,-1.56,10],
[1975.72,-1.62,60],[1976.08,-2.1,10],[1975.92,-2.15,95],[1975.72,-2.24,10],[1975.75,-2.5,10],[1975.72,-3.7,10],[1975.64,2.18,10],[1975.92,2.16,60],[1975.8,1.82,60],[1976.02,1.75,95],[1975.72,1.68,60],[1975.89,1.45,95],[1976.05,1.4,10],[1975.8,1.08,60],[1976.02,.9,95],[1975.72,.8,60],[1975.89,.76,95],[1975.89,.2,95],[1975.72,.09,60],[1975.85,-.05,60],[1975.97,-.12,60],[1975.8,-.3,60],[1976.02,-.44,60],[1975.59,-.78,10],[1975.8,-.83,95],[1976.05,-.72,10],[1975.8,-1.25,60],[1975.97,-1.43,60],[1975.8,3.2,10],[1975.9,2.8,60],[1975.7,2.6,10],[1976,3.5,10]];

const W = 1606, H = 1161;
const L = 135, R = 1375, T = 113, B = 1058;
const x = d3.scaleLinear().domain([1964, 2025]).range([L, R]);
const y = d3.scaleLinear().domain([-10, 10]).range([B, T]);
const cbY = d3.scaleLinear().domain([0, 180]).range([822, 350]);
const color = d3.scaleLinear<string>().domain(cptDist).range(cptColor);

const band = (xs: number[], hi: number[], lo: number[]) =>
  d3.area<number>().x((d) => x(xs[d])).y0((d) => y(lo[d])).y1((d) => y(hi[d])).curve(d3.curveMonotoneX)(xs.map((_, i) => i)) as string;

const FONT = "'Liberation Sans', Arial, sans-serif";

// id, swatch, tile size, rotation, forced distance
const textures: [string, [number,number,number][], number, number, number | null][] = [
  ["s0", sparseSwatch, 64, 7, null],
  ["s1", sparseSwatch, 64, 37, null],
  ["s2", sparseSwatch, 64, 61, null],
  ["d0", denseSwatch, 40, 11, null],
  ["d1", denseSwatch, 40, 52, null],
  ["d2", denseSwatch, 40, 78, null],
  ["d3", denseSwatch, 40, 23, null],
  ["d4", denseSwatch, 40, 41, null],
  ["d5", denseSwatch, 40, 66, null],
  ["d6", denseSwatch, 40, 85, null],
  ["d7", denseSwatch, 40, 17, null],
  ["d8", denseSwatch, 40, 33, null],
  ["olive", denseSwatch, 40, 31, 100],
  ["purple", denseSwatch, 40, 47, 8],
];
const Layers = ({ d, ids }: { d: string; ids: string[] }) => (
  <>{ids.map((id) => <path key={id} d={d} fill={`url(#${id})`} />)}</>
);

export default function App() {
  const dots = [...earlyUpper, ...earlyLower, ...lateUpper, ...lateLower, ...sparseMiddle];
  return (
    <svg width={W} height={H} viewBox={`0 0 ${W} ${H}`} style={{ position: "absolute", left: 0, top: 0, display: "block", background: "#fff" }} fontFamily={FONT}>
      <defs>
        <clipPath id="plot"><rect x={L} y={T} width={R - L} height={B - T} /></clipPath>
        <linearGradient id="cpt" x1="0" y1="1" x2="0" y2="0">
          {cptDist.map((d, i) => <stop key={d} offset={d / 180} stopColor={cptColor[i]} />)}
        </linearGradient>
        {textures.map(([id, sw, size, rot, force]) => (
          <pattern key={id} id={id} width={size} height={size} patternUnits="userSpaceOnUse" patternTransform={`rotate(${rot})`}>
            {sw.map((p, i) => <circle key={i} cx={p[0]} cy={p[1]} r={1.25} fill={color(force ?? p[2])} />)}
          </pattern>
        ))}
      </defs>
      <text x={756} y={30} fontSize={41.3} textAnchor="middle">{titleText}</text>
      <g clipPath="url(#plot)">
        <Layers d={band(earlyYears, earlyFarHi, earlyFarLo)} ids={["s2"]} />
        <Layers d={band(earlyYears, earlyOutHi, earlyOutLo)} ids={["s0", "s1", "d0", "d8"]} />
        <Layers d={band(earlyYears, earlyMidHi, earlyMidLo)} ids={["d1", "d2", "d7", "d6"]} />
        <Layers d={band(earlyYears, earlyCoreHi, earlyCoreLo)} ids={["d3", "d4", "d5"]} />
        <path d={band(earlyYears, earlySolidHi, earlySolidLo)} fill="#6a4510" />
        <Layers d={band(earlyYears, earlyCoreHi, earlySolidLo)} ids={["d5", "d1"]} />
        <Layers d={band(olivePatchYears, olivePatchHi, olivePatchLo)} ids={["olive"]} />
        <Layers d={band(lateYearsA, lateOutHiA, lateOutLoA)} ids={["s0", "s2", "s1"]} />
        <Layers d={band(lateYearsA, lateMidHiA, lateMidLoA)} ids={["d7", "d0"]} />
        <Layers d={band(lateYearsA, lateCoreHiA, lateCoreLoA)} ids={["d4", "d5", "d6", "d1", "d2"]} />
        <Layers d={band(lateYearsB, lateOutHiB, lateOutLoB)} ids={["s0", "s2", "s1"]} />
        <Layers d={band(lateYearsB, lateMidHiB, lateMidLoB)} ids={["d7", "d0"]} />
        <Layers d={band(lateYearsB, lateCoreHiB, lateCoreLoB)} ids={["d4", "d5", "d6", "d1", "d2"]} />
        {lateStreaks.map((s) => <rect key={s} x={x(s) - 3} y={y(2)} width={6} height={y(-2.4) - y(2)} fill="url(#purple)" />)}
        {lateStripes.map((s) => <rect key={s} x={x(s)} y={y(1.6)} width={1.5} height={y(-1.6) - y(1.6)} fill="#fff" opacity={0.7} />)}
        {dots.map((d, i) => <circle key={i} cx={x(d[0])} cy={y(d[1])} r={1.2} fill={color(d[2])} />)}
        <line x1={L} x2={R} y1={y(0)} y2={y(0)} stroke="#000" strokeOpacity={0.5} strokeWidth={2} />
        {medians.map((d, i) => <circle key={i} cx={x(d[0])} cy={y(d[1])} r={3.6} fill="#3bd8ee" />)}
      </g>
      <rect x={L} y={T} width={R - L} height={B - T} fill="none" stroke="#000" strokeWidth={3} />
      {yearTicks.map((t) => (
        <g key={t} stroke="#000" strokeWidth={1.2}>
          <line x1={x(t)} x2={x(t)} y1={T} y2={T - 12} />
          <line x1={x(t)} x2={x(t)} y1={B} y2={B + 12} />
        </g>
      ))}
      {yearLabels.map((t) => <text key={t} x={x(t + 0.5)} y={1107} fontSize={32.4} textAnchor="middle">{t}</text>)}
      {resMajor.map((t) => (
        <g key={t}>
          <line x1={L - 12} x2={L} y1={y(t)} y2={y(t)} stroke="#000" strokeWidth={1.2} />
          <line x1={R} x2={R + 12} y1={y(t)} y2={y(t)} stroke="#000" strokeWidth={1.2} />
          <text x={111} y={y(t) + 12} fontSize={32.4} textAnchor="end">{t < 0 ? `\u2212${-t}` : t}</text>
        </g>
      ))}
      {resMinor.map((t) => (
        <g key={t} stroke="#000" strokeWidth={1.2}>
          <line x1={L - 6} x2={L} y1={y(t)} y2={y(t)} />
          <line x1={R} x2={R + 6} y1={y(t)} y2={y(t)} />
        </g>
      ))}
      <text x={755} y={1159} fontSize={34.5} textAnchor="middle">Year</text>
      <text transform={`translate(25,586) rotate(-90)`} fontSize={33.4} textAnchor="middle">Residual and monthly median residual (seconds)</text>
      <rect x={1434} y={cbY(180)} width={45} height={cbY(0) - cbY(180)} fill="url(#cpt)" stroke="#000" strokeWidth={2.5} />
      {distTicks.map((t) => (
        <g key={t}>
          <line x1={1479} x2={1491} y1={cbY(t)} y2={cbY(t)} stroke="#000" strokeWidth={1.2} />
          <text x={1557} y={cbY(t) + 12} fontSize={32.4} textAnchor="end">{t}</text>
        </g>
      ))}
      <text transform={`translate(1598,586) rotate(-90)`} fontSize={34} textAnchor="middle">Distance (degrees)</text>
    </svg>
  );
}
